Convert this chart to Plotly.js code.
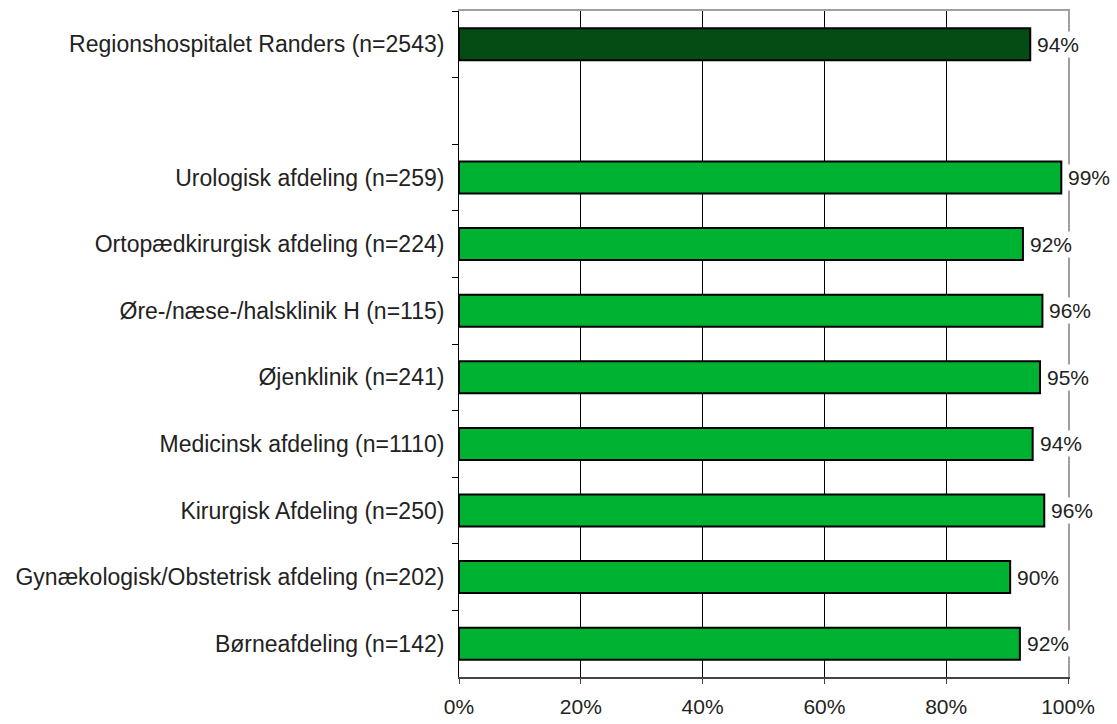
<!DOCTYPE html>
<html>
<head>
<meta charset="utf-8">
<script src="https://cdn.plot.ly/plotly-3.0.1.min.js"></script>
<style>html,body{margin:0;padding:0;background:#fff;}#chart{width:1117px;height:724px;}</style>
</head>
<body>
<div id="chart"></div>
<script>
// Categories top to bottom (blank slot separates the hospital total from departments)
var categories = [
  "Regionshospitalet Randers (n=2543)",
  " ",
  "Urologisk afdeling (n=259)",
  "Ortopædkirurgisk afdeling (n=224)",
  "Øre-/næse-/halsklinik H (n=115)",
  "Øjenklinik (n=241)",
  "Medicinsk afdeling (n=1110)",
  "Kirurgisk Afdeling (n=250)",
  "Gynækologisk/Obstetrisk afdeling (n=202)",
  "Børneafdeling (n=142)"
];
var values = [0.938, null, 0.989, 0.926, 0.958, 0.954, 0.942, 0.961, 0.905, 0.921];
var valueLabels = ["94%", "", "99%", "92%", "96%", "95%", "94%", "96%", "90%", "92%"];
var xTickVals = [0, 0.2, 0.4, 0.6, 0.8, 1];
var xTickText = ["0%", "20%", "40%", "60%", "80%", "100%"];
var gridVals = [0.2, 0.4, 0.6, 0.8];

var darkGreen = "#034c14";
var green = "#00b232";
var barColors = categories.map(function (c, i) { return i === 0 ? darkGreen : green; });

var fontFam = "Liberation Sans, Arial, sans-serif";

var trace = {
  type: "bar",
  orientation: "h",
  y: categories,
  x: values,
  marker: { color: barColors, line: { color: "#000", width: 2 } },
  hoverinfo: "skip",
  showlegend: false
};
// empty helper traces so the overlay axes (grid + frame lines) are drawn
var gridHelper = { type: "scatter", mode: "markers", x: [], y: [], xaxis: "x2", yaxis: "y", showlegend: false, hoverinfo: "skip" };
var frameHelper = { type: "scatter", mode: "markers", x: [], y: [], xaxis: "x", yaxis: "y2", showlegend: false, hoverinfo: "skip" };

var annotations = [];
categories.forEach(function (c, i) {
  if (values[i] === null) return;
  annotations.push({
    x: values[i], y: c, xref: "x", yref: "y",
    text: valueLabels[i], showarrow: false,
    xanchor: "left", yanchor: "middle", xshift: 5,
    bgcolor: "#ffffff", borderpad: 1,
    font: { family: fontFam, size: 21, color: "#222" }
  });
});

var layout = {
  width: 1117, height: 724,
  margin: { l: 459, r: 49, t: 11, b: 47, pad: 0 },
  paper_bgcolor: "#fff", plot_bgcolor: "#fff",
  bargap: 0.52,
  font: { family: fontFam, size: 23, color: "#222" },
  xaxis: {
    range: [0, 1], fixedrange: true,
    tickvals: xTickVals, ticktext: xTickText,
    showgrid: false, zeroline: false,
    showline: true, linecolor: "#444", linewidth: 2,
    ticks: "outside", ticklen: 5, tickcolor: "#444", tickwidth: 1,
    ticklabelstandoff: 5,
    tickfont: { family: fontFam, size: 21, color: "#222" }
  },
  xaxis2: {
    overlaying: "x", side: "top", anchor: "y",
    range: [0, 1], fixedrange: true,
    tickvals: gridVals, showticklabels: false, ticks: "",
    showgrid: true, gridcolor: "#000", gridwidth: 1, zeroline: false,
    showline: true, linecolor: "#a0a0a0", linewidth: 2
  },
  yaxis: {
    type: "category", categoryorder: "array", categoryarray: categories,
    autorange: "reversed", fixedrange: true,
    tickson: "boundaries", ticks: "outside", ticklen: 6, tickcolor: "#000", tickwidth: 1,
    showline: true, linecolor: "#000", linewidth: 1,
    showgrid: false, zeroline: false,
    ticklabelstandoff: 9,
    tickfont: { family: fontFam, size: 23, color: "#222" }
  },
  yaxis2: {
    overlaying: "y", side: "right", anchor: "x",
    range: [0, 1], fixedrange: true,
    showticklabels: false, ticks: "", showgrid: false, zeroline: false,
    showline: true, linecolor: "#a0a0a0", linewidth: 2
  },
  annotations: annotations
};

Plotly.newPlot("chart", [gridHelper, frameHelper, trace], layout, { displayModeBar: false, staticPlot: true });
</script>
</body>
</html>
